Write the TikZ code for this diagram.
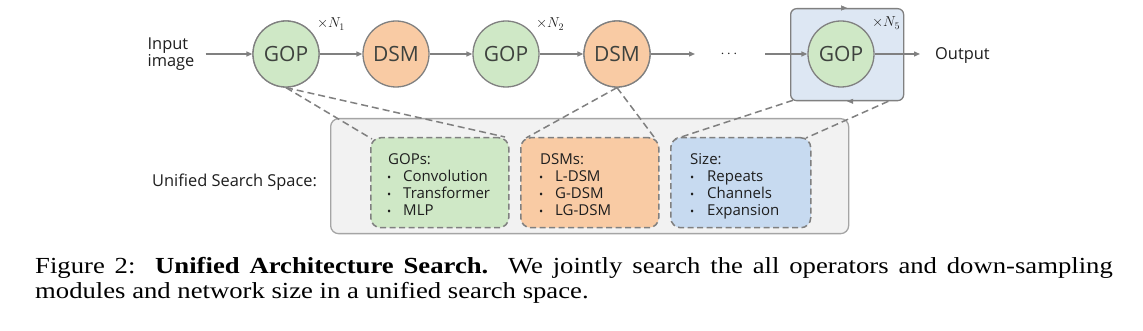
\documentclass[tikz,border=0pt]{standalone}
\usepackage{fontspec}
\setmainfont{Open Sans}
\newfontfamily\capfont{Liberation Serif}
\usetikzlibrary{arrows.meta,decorations.markings,calc}
\definecolor{gfill}{RGB}{207,232,198}
\definecolor{ofill}{RGB}{249,203,164}
\definecolor{bfill}{RGB}{221,231,243}
\definecolor{bdfill}{RGB}{199,218,240}
\definecolor{sfill}{RGB}{242,242,242}
\definecolor{lgray}{RGB}{128,128,128}
\definecolor{sgray}{RGB}{165,165,165}
\definecolor{txt}{RGB}{62,66,62}
\definecolor{btxt}{RGB}{30,30,30}
\begin{document}
\begin{tikzpicture}[x=1pt,y=-1pt,
  arr/.style={draw=lgray, line width=1.3pt, -{Triangle[length=6pt,width=5pt]}},
  op/.style={circle, draw=lgray, line width=1.3pt, minimum size=66pt, inner sep=0pt,
    font=\fontsize{21}{24}\selectfont, text=txt},
  gop/.style={op, fill=gfill},
  dsm/.style={op, fill=ofill},
  lbl/.style={font=\fontsize{16.4}{17}\selectfont, text=btxt, inner sep=0pt},
  mult/.style={font=\fontsize{14}{15}\selectfont, text=btxt, inner sep=0pt, anchor=base},
  dline/.style={draw=lgray, line width=1.5pt, dash pattern=on 7pt off 4pt},
  sbox/.style={draw=lgray, dash pattern=on 6pt off 3.5pt, line width=1.5pt,
    rounded corners=10pt, minimum height=90pt, anchor=north west, inner sep=0pt},
  itm/.style={font=\fontsize{15}{17}\selectfont, text=btxt, inner sep=0pt, anchor=base west},
  bul/.style={font=\fontsize{11}{17}\selectfont, text=btxt, inner sep=0pt, anchor=base west},
  captext/.style={font=\capfont\fontsize{23}{26}\selectfont, text=black, inner sep=0pt, anchor=base west},
  tipmark/.style={decoration={markings, mark=at position 0.5 with {\arrow[lgray]{Triangle[length=6pt,width=5pt]}}}, decorate}
]
\useasboundingbox (0,0) rectangle (1143,331);
\fill[white] (0,0) rectangle (1143,331);

% search space container
\node[draw=sgray, fill=sfill, line width=1.3pt, rounded corners=8pt, minimum width=518pt,
  minimum height=115pt, anchor=north west, inner sep=0pt] (space) at (330,118) {};
\node[lbl, anchor=base west] (sslabel) at (152,187) {Unified Search Space:};

% operator circles
\node[gop] (gop1) at (286,54) {GOP};
\node[dsm] (dsm1) at (396,54) {DSM};
\node[gop] (gop2) at (506,54) {GOP};
\node[dsm] (dsm2) at (617,54) {DSM};

% blue repeat box
\node[draw=lgray, fill=bfill, line width=1.3pt, rounded corners=6pt, minimum width=113pt,
  minimum height=92pt, anchor=north west, inner sep=0pt] (rbox) at (790,8) {};

% line end points at the search boxes
\coordinate (gtl) at (372,139);
\coordinate (gtr) at (505,137);
\coordinate (otl) at (526,138);
\coordinate (otr) at (654,137);
\coordinate (btl) at (675,139);
\coordinate (btr) at (806,138);
\coordinate (rbl) at ($(rbox.south west)+(3,-1)$);
\coordinate (rbr) at ($(rbox.south east)+(-16,0)$);

% dashed zoom lines
\draw[dline] (gop1.south) -- (gtl);
\draw[dline] (gop1.south) -- (gtr);
\draw[dline] (dsm2.south) -- (otl);
\draw[dline] (dsm2.south) -- (otr);
\draw[dline] (rbl) -- (btl);
\draw[dline] (rbr) -- (btr);

% redraw circles on top of line starts
\node[gop] at (gop1) {GOP};
\node[dsm] at (dsm2) {DSM};

\node[sbox, fill=gfill, minimum width=138pt] (gbox) at (370,137) {};
\node[sbox, fill=ofill, minimum width=138pt] (obox) at (520,137) {};
\node[sbox, fill=bdfill, minimum width=140pt] (bbox) at (670,137) {};

% repeat box edge arrows
\path[tipmark] (rbox.north west) -- (rbox.north east);
\path[tipmark] (rbox.south east) -- (rbox.south west);

\node[gop] (gop3) at (841,54) {GOP};

% input / output
\node[lbl, align=left] (inp) at (171,54) {Input\\image};
\node[lbl, anchor=base west] (out) at (935,60) {Output};
\node[font=\fontsize{14}{15}\selectfont, text=btxt, inner sep=0pt] (dots) at (729,54) {$\cdots$};
\coordinate (dsmend) at (695,54);
\coordinate (gop3start) at (765,54);
\coordinate (outend) at ($(out.west |- gop3)+(-15,0)$);

\draw[arr] ($(inp.east)+(11,0)$) -- (gop1);
\draw[arr] (gop1) -- (dsm1);
\draw[arr] (dsm1) -- (gop2);
\draw[arr] (gop2) -- (dsm2);
\draw[arr] (dsm2) -- (dsmend);
\draw[arr] (gop3start) -- (gop3);
\draw[arr] (gop3) -- (outend);

% repeat labels
\node[mult] (n1) at (331,28) {$\times N_1$};
\node[mult] (n2) at (550,28) {$\times N_2$};
\node[mult] (n5) at (886,27) {$\times N_5$};

% box contents
\node[itm] (gh) at (388,165) {GOPs:};
\node[bul] (gb1) at (387,182) {•};
\node[itm] (g1) at (403,182) {Convolution};
\node[bul] (gb2) at (387,198.5) {•};
\node[itm] (g2) at (403,198.5) {Transformer};
\node[bul] (gb3) at (387,215) {•};
\node[itm] (g3) at (403,215) {MLP};

\node[itm] (oh) at (540,165) {DSMs:};
\node[bul] (ob1) at (539,182) {•};
\node[itm] (o1) at (555,182) {L-DSM};
\node[bul] (ob2) at (539,198.5) {•};
\node[itm] (o2) at (555,198.5) {G-DSM};
\node[bul] (ob3) at (539,215) {•};
\node[itm] (o3) at (555,215) {LG-DSM};

\node[itm] (bh) at (690,165) {Size:};
\node[bul] (bb1) at (690,182) {•};
\node[itm] (b1) at (707,182) {Repeats};
\node[bul] (bb2) at (690,198.5) {•};
\node[itm] (b2) at (707,198.5) {Channels};
\node[bul] (bb3) at (690,215) {•};
\node[itm] (b3) at (707,215) {Expansion};

% caption
\node[captext] (cap1) at (35,273) {\scalebox{1.16}[1]{\makebox[929pt][s]{Figure 2:\ \ \textbf{Unified Architecture Search.}\ \ We jointly search the all operators and down-sampling}}};
\node[captext] (cap2) at (35,298) {\scalebox{1.16}[1]{modules and network size in a unified search space.}};
\end{tikzpicture}
\end{document}
